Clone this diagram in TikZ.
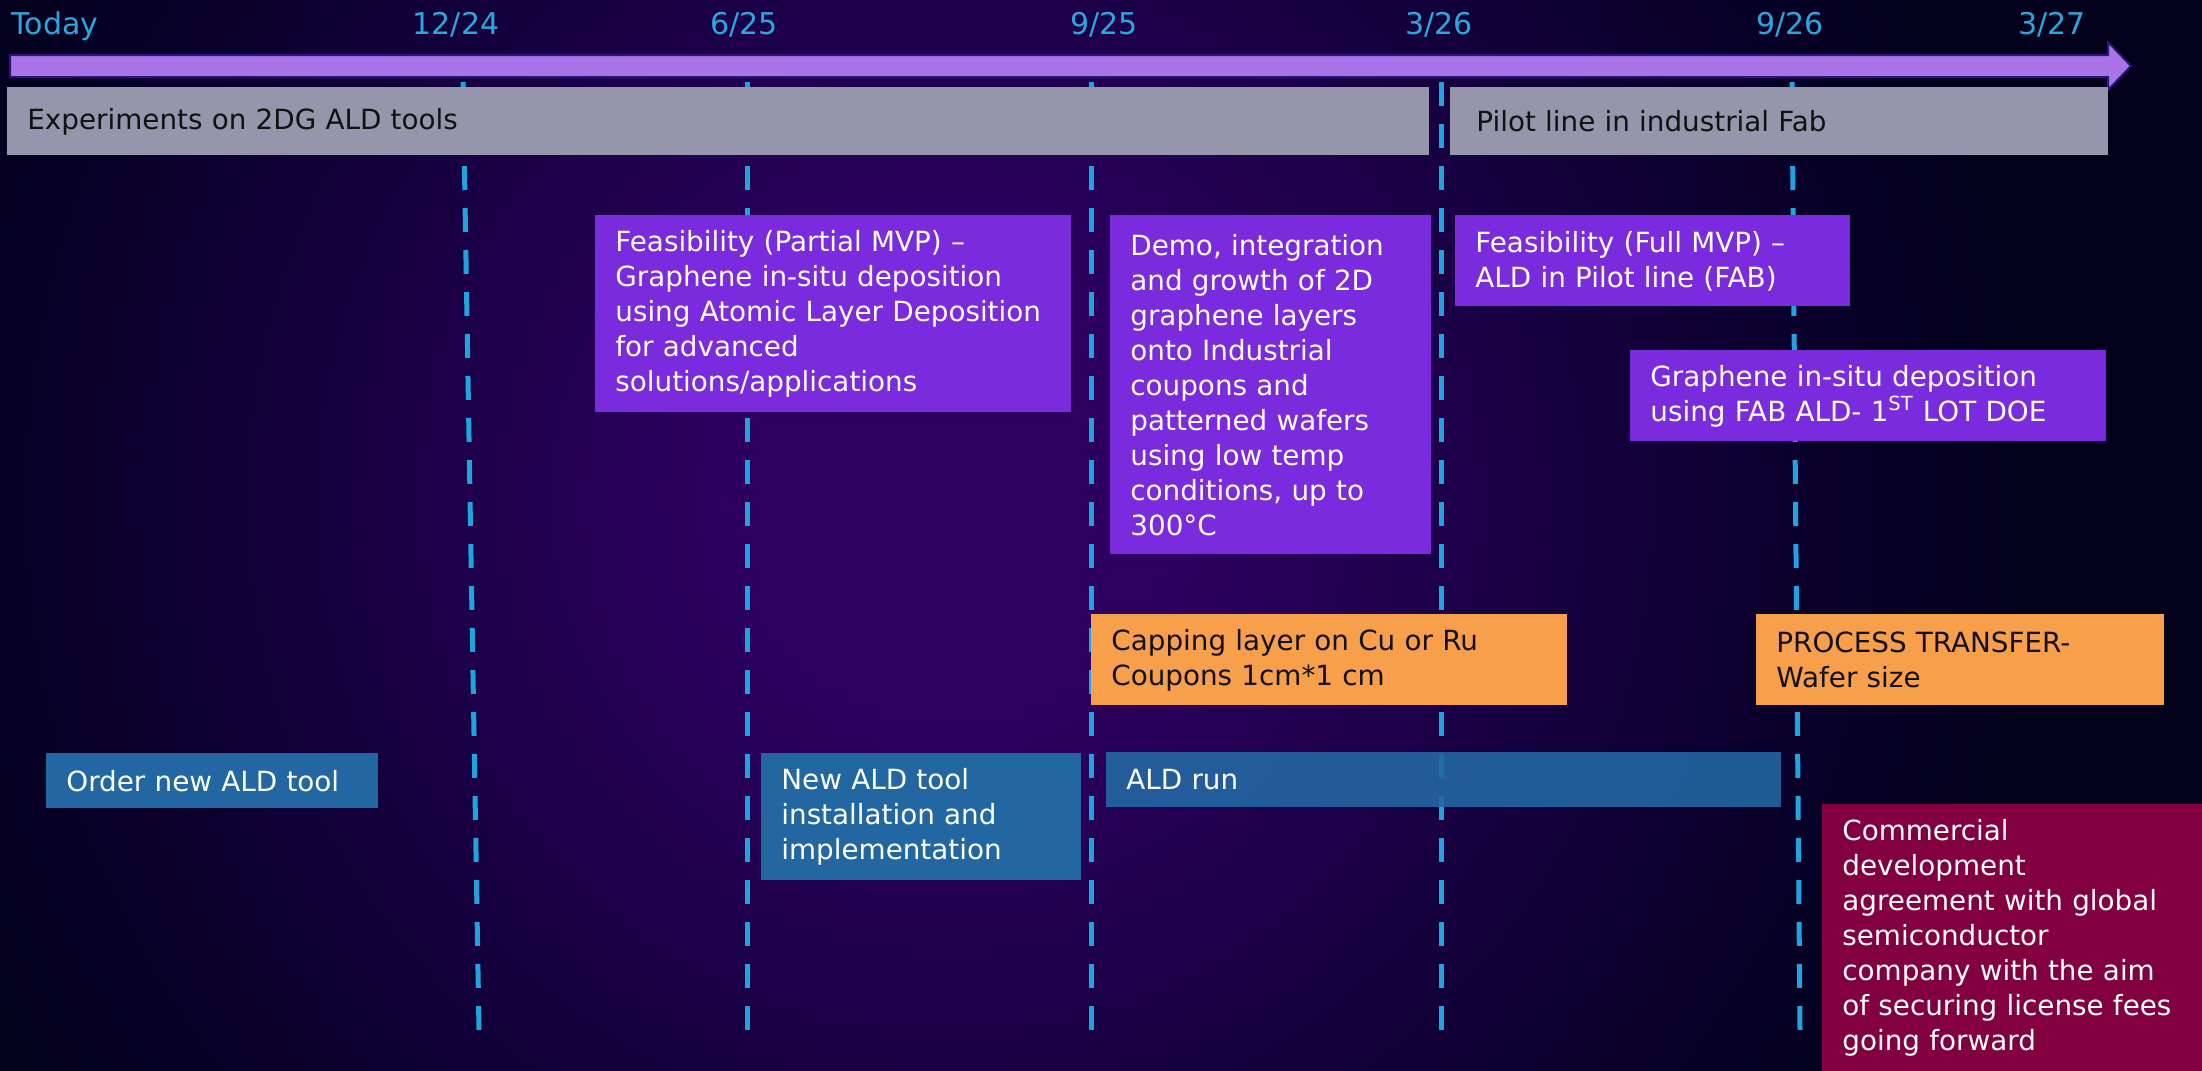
\documentclass[tikz,border=0pt]{standalone}
\usepackage{fontspec}
\setmainfont{DejaVu Sans}
\definecolor{bgin}{HTML}{2D0060}
\definecolor{bgmid}{HTML}{1A0045}
\definecolor{bgdark}{HTML}{08002A}
\definecolor{bgout}{HTML}{02001A}
\definecolor{arrowfill}{HTML}{A874E8}
\definecolor{arrowedge}{HTML}{2E1280}
\definecolor{greybar}{HTML}{9596AB}
\definecolor{purplebox}{HTML}{7A2BDD}
\definecolor{orangebox}{HTML}{F79F4B}
\definecolor{bluebox}{HTML}{2267A2}
\definecolor{maroonbox}{HTML}{82003F}
\definecolor{cyanline}{HTML}{1EA5E0}
\definecolor{cyantext}{HTML}{29A8E0}
\definecolor{darktext}{HTML}{111111}
\pgfdeclareradialshading{bgshade}{\pgfpoint{0bp}{0bp}}{color(0bp)=(bgin); color(5bp)=(bgin); color(12.5bp)=(bgmid); color(20bp)=(bgdark); color(25bp)=(bgout); color(50bp)=(bgout)}
\begin{document}
\begin{tikzpicture}[x=0.5pt,y=-0.5pt,
  bx/.code 2 args={\pgfmathsetmacro\bxw{#1*0.5}\pgfmathsetmacro\bxh{#2*0.5}\pgfmathsetmacro\bxt{#1*0.5-20}%
    \edef\bxtmp{\noexpand\tikzset{minimum width=\bxw pt, minimum height=\bxh pt, text width=\bxt pt}}\bxtmp},
  box/.style={anchor=north west, inner xsep=10pt, inner ysep=0pt, align=left,
    font=\fontsize{13.9}{17.5}\selectfont, text=white},
  datelabel/.style={anchor=base, inner sep=0pt, text=cyantext, font=\fontsize{15}{18}\selectfont},
  vline/.style={draw=cyanline, line width=2.5pt, dash pattern=on 12pt off 9pt}]
\useasboundingbox (0,0) rectangle (2202,1071);
% background
\begin{scope}
\clip (0,0) rectangle (2202,1071);
\fill[bgout] (0,0) rectangle (2202,1071);
\shade[shading=bgshade] (950,500) circle[radius=550pt];
\end{scope}
% date labels
\node[datelabel, anchor=base west] (dtoday) at (11,34) {Today};
\node[datelabel] (d1224) at (456,34) {12/24};
\node[datelabel] (d625) at (744,34) {6/25};
\node[datelabel] (d925) at (1104,34) {9/25};
\node[datelabel] (d326) at (1439,34) {3/26};
\node[datelabel] (d926) at (1790,34) {9/26};
\node[datelabel] (d327) at (2052,34) {3/27};
% dashed milestone lines
\coordinate (l1t) at (463,82);  \coordinate (l1b) at (479,1030);
\coordinate (l2t) at (747,82);  \coordinate (l2b) at (747,1046);
\coordinate (l3t) at (1091,82); \coordinate (l3b) at (1091,1030);
\coordinate (l4t) at (1441,82); \coordinate (l4b) at (1441,1030);
\coordinate (l5t) at (1792,82); \coordinate (l5b) at (1800,1030);
\draw[vline] (l1t) -- (l1b);
\draw[vline] (l2t) -- (l2b);
\draw[vline] (l3t) -- (l3b);
\draw[vline] (l4t) -- (l4b);
\draw[vline] (l5t) -- (l5b);
% timeline arrow
\draw[fill=arrowfill, draw=arrowedge, line width=1pt, line join=miter]
  (10,55) -- (2108,55) -- (2108,42) -- (2131,66) -- (2108,90) -- (2108,77) -- (10,77) -- cycle;
% grey phase bars
\node[box, bx={1422}{68}, fill=greybar, text=darktext] (exp) at (7,87) {Experiments on 2DG ALD tools};
\node[box, bx={658}{68}, fill=greybar, text=darktext] (pilot) at (1450,87) {\hspace*{3pt}Pilot line in industrial Fab};
% purple boxes
\node[box, bx={476}{197}, fill=purplebox] (feas1) at (595,215)
  {Feasibility (Partial MVP) –\\Graphene in-situ deposition\\using Atomic Layer Deposition\\for advanced\\solutions/applications};
\node[box, bx={321}{339}, fill=purplebox] (demo) at (1110,215)
  {Demo, integration\\and growth of 2D\\graphene layers\\onto Industrial\\coupons and\\patterned wafers\\using low temp\\conditions, up to\\300°C};
\node[box, bx={395}{91}, fill=purplebox] (feas2) at (1455,215)
  {Feasibility (Full MVP) –\\ALD in Pilot line (FAB)};
\node[box, bx={476}{91}, fill=purplebox] (fab) at (1630,350)
  {Graphene in-situ deposition\\using FAB ALD- 1\textsuperscript{ST} LOT DOE};
% orange boxes
\node[box, bx={476}{91}, fill=orangebox, text=darktext] (cap) at (1091,614)
  {Capping layer on Cu or Ru\\Coupons 1cm*1 cm};
\node[box, bx={408}{91}, fill=orangebox, text=darktext] (transfer) at (1756,614)
  {PROCESS TRANSFER-\\Wafer size};
% blue boxes
\node[box, bx={332}{55}, fill=bluebox] (order) at (46,753) {Order new ALD tool};
\node[box, bx={320}{127}, fill=bluebox] (install) at (761,753)
  {New ALD tool\\installation and\\implementation};
\node[box, bx={675}{55}, fill=bluebox, fill opacity=0.9, text opacity=1] (aldrun) at (1106,752) {ALD run};
% maroon box
\node[box, bx={400}{267}, fill=maroonbox] (commercial) at (1822,804)
  {Commercial\\development\\agreement with global\\semiconductor\\company with the aim\\of securing license fees\\going forward};
\end{tikzpicture}
\end{document}
